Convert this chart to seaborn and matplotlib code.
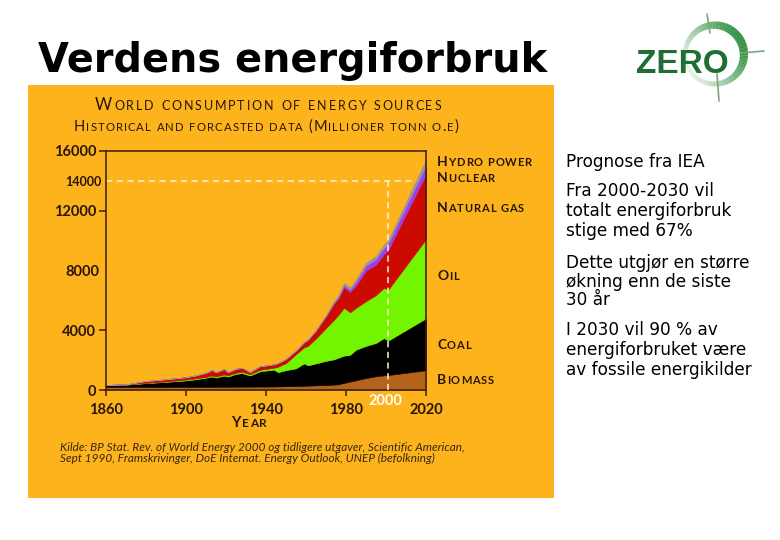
import numpy as np
import matplotlib
matplotlib.use("Agg")
import matplotlib.pyplot as plt
import seaborn as sns
from matplotlib.offsetbox import TextArea, HPacker, DrawingArea, AnnotationBbox
from matplotlib.patches import Rectangle, Polygon
import matplotlib.colors as mcolors

# ---------------- data (Mtoe) ----------------
years = [1860, 1870, 1880, 1890, 1900, 1905, 1910, 1913, 1915, 1919, 1921, 1925,
         1928, 1932, 1937, 1940, 1944, 1946, 1950, 1955, 1959, 1961, 1965, 1970,
         1974, 1976, 1979, 1982, 1985, 1990, 1995, 1999, 2001, 2020]
biomass = [200, 200, 200, 200, 210, 210, 210, 215, 215, 215, 215, 220,
           220, 225, 230, 230, 235, 240, 250, 265, 280, 290, 310, 330,
           360, 380, 470, 560, 650, 800, 920, 980, 1000, 1320]
coal = [130, 160, 260, 340, 430, 510, 610, 685, 615, 745, 685, 860,
        910, 745, 1020, 1070, 1120, 950, 1080, 1185, 1500, 1360, 1470, 1620,
        1690, 1770, 1830, 1790, 2050, 2150, 2230, 2500, 2300, 3480]
oil = [0, 0, 10, 30, 60, 60, 60, 70, 70, 80, 80, 80,
       90, 90, 100, 110, 135, 370, 470, 950, 1070, 1300, 1670, 2200,
       2650, 2850, 3200, 2850, 2800, 3000, 3200, 3370, 3400, 5300]
natural_gas = [10, 20, 130, 150, 160, 200, 270, 370, 290, 360, 220, 260,
               270, 140, 250, 230, 230, 240, 280, 250, 350, 430, 550, 800,
               1100, 1100, 1400, 1350, 1500, 2050, 2050, 2250, 2650, 4350]
nuclear = [0, 0, 0, 0, 0, 0, 0, 0, 0, 0, 0, 0,
           0, 0, 0, 0, 0, 0, 0, 0, 0, 0, 0, 30,
           60, 90, 130, 170, 250, 330, 380, 420, 430, 600]
hydro = [0, 0, 0, 0, 0, 0, 0, 0, 0, 0, 0, 0,
         0, 0, 0, 0, 0, 0, 0, 0, 0, 0, 0, 40,
         80, 100, 130, 140, 160, 180, 200, 220, 220, 400]

series_colors = ["#B3641A", "#000000", "#74F500", "#CC0A00", "#A03CF0", "#9A929C"]
legend_labels = ["Hydro power", "Nuclear", "Natural gas", "Oil", "Coal", "Biomass"]
x_ticks = [1860, 1900, 1940, 1980, 2020]
y_ticks = [0, 4000, 8000, 12000, 14000, 16000]
marker_year = 2001
marker_value = 14000
marker_label = "2000"

title = "Verdens energiforbruk"
chart_title1 = "World consumption of energy sources"
chart_title2 = "Historical and forcasted data (Millioner tonn o.e)"
x_label = "Year"
source_lines = ["Kilde: BP Stat. Rev. of World Energy 2000 og tidligere utgaver, Scientific American,",
                "Sept 1990, Framskrivinger, DoE Internat. Energy Outlook, UNEP (befolkning)"]
side_blocks = [["Prognose fra IEA"],
               ["Fra 2000-2030 vil", "totalt energiforbruk", "stige med 67%"],
               ["Dette utgjør en større", "økning enn de siste", "30 år"],
               ["I 2030 vil 90 % av", "energiforbruket være", "av fossile energikilder"]]

# ---------------- style ----------------
sns.set_theme(style="ticks")
plt.rcParams['font.family'] = ['DejaVu Sans']
ORANGE = "#FDB41C"
DARK = "#2a1606"
palette = sns.color_palette(series_colors)

fig = plt.figure(figsize=(7.8, 5.4), dpi=100)
fig.patch.set_facecolor("white")

# overlay in pixel coordinates
bg = fig.add_axes([0, 0, 1, 1], zorder=0)
bg.set_xlim(0, 780)
bg.set_ylim(540, 0)
bg.axis("off")
bg.add_patch(Rectangle((28, 85), 526, 413, facecolor=ORANGE, edgecolor="none"))


def small_caps(x, y, text, big, small, weight="normal", color=DARK, track=1.0,
               ha=0.0, family="Lato", space=3.0):
    boxes = []
    for ch in text:
        if ch == " ":
            boxes.append(DrawingArea(space, 1))
            continue
        size = small if ch.islower() else big
        boxes.append(TextArea(ch.upper(), textprops=dict(fontsize=size, fontweight=weight,
                                                          color=color, family=family)))
    pack = HPacker(children=boxes, align="baseline", pad=0, sep=track)
    ab = AnnotationBbox(pack, (x, y), xycoords="data", frameon=False,
                        box_alignment=(ha, 0), pad=0, annotation_clip=False)
    bg.add_artist(ab)


# main title
bg.text(38, 72, title, fontsize=28.7, fontweight="bold", color="black", va="baseline")

# chart titles
small_caps(268, 113, chart_title1, 12, 9, track=1.35, ha=0.5)
small_caps(266, 134, chart_title2, 10.5, 8.2, track=0.75, ha=0.5, space=2.6)

# chart axes
ax = fig.add_axes([106 / 780, 1 - 390 / 540, 320 / 780, 239 / 540], zorder=2)
ax.set_facecolor("none")
ax.stackplot(years, biomass, coal, oil, natural_gas, nuclear, hydro,
             colors=palette, linewidth=0.4, edgecolor="face", zorder=2)
ax.plot([1860, 2020], [marker_value, marker_value], color="#FFF4D2", lw=1.1,
        dashes=(4, 3), zorder=1)
ax.plot([marker_year, marker_year], [0, marker_value], color="#FFF4D2", lw=1.1,
        dashes=(4, 3), zorder=3)
ax.set_xlim(1860, 2020)
ax.set_ylim(0, 16000)
ax.set_xticks(x_ticks)
ax.set_yticks(y_ticks)
ax.set_xticklabels([str(v) for v in x_ticks])
ax.set_yticklabels([str(v) for v in y_ticks])
for s in ax.spines.values():
    s.set_visible(True)
    s.set_color("#3a1c05")
    s.set_linewidth(1.1)
ax.grid(False)
ax.tick_params(axis="y", direction="out", length=5, width=1.1, color="#3a1c05", pad=2,
               labelsize=10.5, labelcolor=DARK)
ax.tick_params(axis="x", direction="out", length=4, width=1.1, color="#3a1c05", pad=5,
               labelsize=10.5, labelcolor=DARK)
for lab in ax.get_xticklabels() + ax.get_yticklabels():
    lab.set_family("Lato")
    lab.set_fontweight("bold")
yt = ax.yaxis.get_major_ticks()
yt[2].tick1line.set_visible(False)
yt[4].tick1line.set_visible(False)
yt[2].set_pad(0)
yt[4].set_pad(-2)
ax.get_yticklabels()[4].set_fontsize(9)

bg.text(385, 401, marker_label, color="white", fontsize=10.5, fontweight="bold",
        family="Lato", ha="center", va="center", zorder=5)

# x label
small_caps(249, 430, x_label, 10.5, 8.5, weight="bold", track=0.8, ha=0.5)

# legend labels
leg_base = [166, 182, 212, 280, 349, 384]
for lab, yb in zip(legend_labels, leg_base):
    small_caps(437, yb + 2, lab, 10, 8, weight="bold", track=0.55, space=2.6)

# source
for i, line in enumerate(source_lines):
    bg.text(60, 451 + 11 * i, line, fontsize=8.5, style="italic", family="Lato",
            color="#3b2310", va="baseline")

# right text
bases = [[167], [196, 216, 236], [268, 287, 305], [335, 355, 375]]
for block, bl in zip(side_blocks, bases):
    for line, yb in zip(block, bl):
        bg.text(566, yb, line, fontsize=12.2, color="black", va="baseline")

# ZERO logo
cx, cy, R = 715.5, 54.0, 32.5
dark = np.array(mcolors.to_rgb("#2f8f3f"))
pale = np.array(mcolors.to_rgb("#e3f1e3"))
n = 120
for i in range(n):
    t0 = 2 * np.pi * i / n
    t1 = 2 * np.pi * (i + 1.1) / n
    tm = (t0 + t1) / 2
    d = (1 + np.cos(tm - np.deg2rad(30))) / 2
    w = 4.0 + 4.5 * d
    col = pale + (dark - pale) * d
    ts = np.linspace(t0, t1, 4)
    outer = [(cx + R * np.cos(t), cy - R * np.sin(t)) for t in ts]
    inner = [(cx + (R - w) * np.cos(t), cy - (R - w) * np.sin(t)) for t in ts[::-1]]
    bg.add_patch(Polygon(outer + inner, closed=True, facecolor=col, edgecolor="none"))
for (x0, y0, x1, y1) in [(707, 14, 710, 33), (717, 74, 719, 101), (741, 53, 764, 51)]:
    bg.plot([x0, x1], [y0, y1], color="#7fa57f", lw=1.2)
bg.text(636, 73, "ZERO", fontsize=24, fontweight="bold", color="#1f6e33",
        family="Liberation Sans", va="baseline")

fig.savefig("out.png", dpi=100, facecolor="white")
